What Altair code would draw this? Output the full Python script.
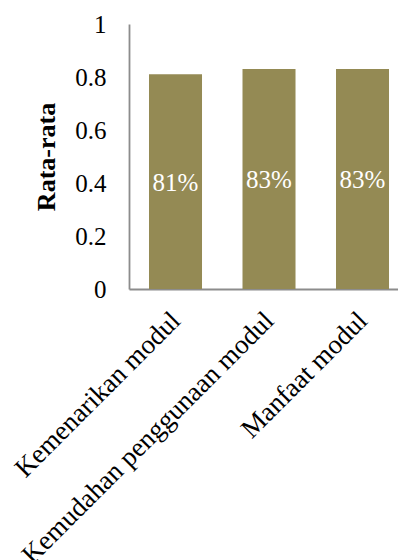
import altair as alt
import pandas as pd

categories = ["Kemenarikan modul", "Kemudahan penggunaan modul", "Manfaat modul"]
values = [0.81, 0.83, 0.83]
y_ticks = [0, 0.2, 0.4, 0.6, 0.8, 1]

df = pd.DataFrame({"kategori": categories, "nilai": values})

FONT = "Liberation Serif"
BAR = "#948A54"
AXIS_GRAY = "#8c8c8c"

x_enc = alt.X(
    "kategori:N",
    sort=categories,
    title=None,
    scale=alt.Scale(paddingInner=0.433, paddingOuter=0.155, align=0.69),
    axis=alt.Axis(
        labelAngle=-45,
        labelFont=FONT,
        labelFontSize=27,
        labelColor="black",
        labelAlign="right",
        labelBaseline="top",
        labelPadding=18,
        labelOffset=-8.5,
        labelLimit=0,
        labelOverlap=False,
        ticks=False,
        domainColor=AXIS_GRAY,
        domainWidth=1.8,
    ),
)

y_enc = alt.Y(
    "nilai:Q",
    scale=alt.Scale(domain=[0, 1]),
    axis=alt.Axis(
        values=y_ticks,
        format="~g",
        title="Rata-rata",
        titleFont=FONT,
        titleFontSize=26,
        titleFontWeight="bold",
        titleColor="black",
        titlePadding=15,
        labelFont=FONT,
        labelFontSize=25,
        labelColor="black",
        labelPadding=23,
        labelOverlap=False,
        ticks=False,
        grid=False,
        domainColor=AXIS_GRAY,
        domainWidth=1.8,
    ),
)

bars = alt.Chart(df).mark_bar(color=BAR).encode(x=x_enc, y=y_enc)

labels = (
    alt.Chart(df)
    .transform_calculate(mid="datum.nilai / 2")
    .mark_text(color="white", font=FONT, fontSize=25, baseline="middle", dy=1)
    .encode(
        x=alt.X("kategori:N", sort=categories),
        y=alt.Y("mid:Q"),
        text=alt.Text("nilai:Q", format=".0%"),
    )
)

chart = (
    alt.layer(bars, labels)
    .properties(
        width=269,
        height=265,
        autosize=alt.AutoSizeParams(type="none"),
        padding={"left": 129, "top": 24, "right": 0, "bottom": 271},
    )
    .configure(font=FONT)
    .configure_axis(labelFont=FONT, titleFont=FONT)
    .configure_text(font=FONT)
    .configure_view(stroke=None)
)

chart.save("out.html", embed_options={"renderer": "svg", "actions": False})
